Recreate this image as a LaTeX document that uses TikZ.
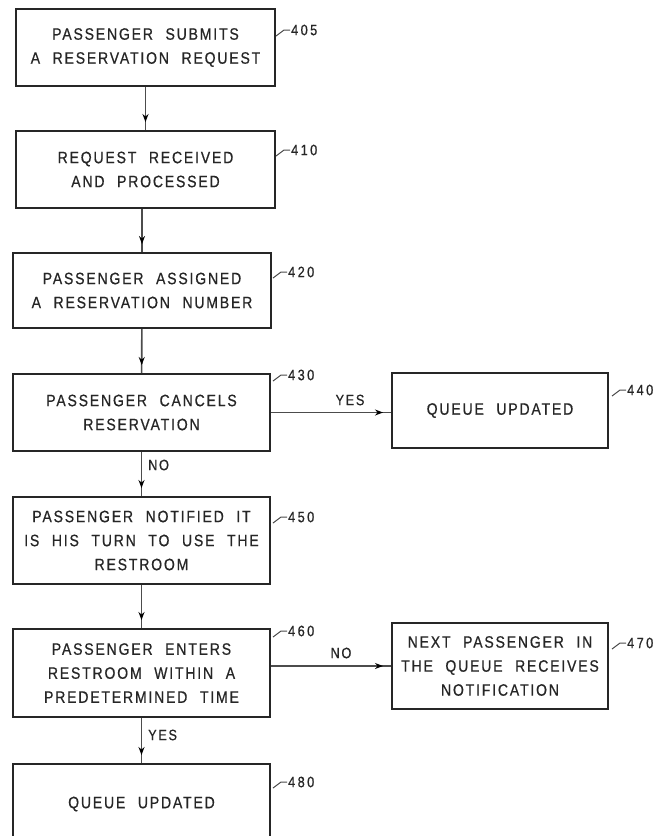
\documentclass[tikz,border=0pt]{standalone}
\usepackage{fontspec}
\setmainfont{Liberation Sans}[LetterSpace=11,WordSpace=2.2,FakeStretch=0.85,FakeBold=0.6]
\usetikzlibrary{arrows.meta,decorations.markings}
\begin{document}
\begin{tikzpicture}[x=1pt,y=-1pt,
  box/.style={draw=black!85, line width=2pt, align=center,
    font=\fontsize{16.5}{24}\selectfont, text=black!85, inner sep=2pt},
  flow/.style={draw=black!70, line width=1.6pt, postaction={decorate},
    decoration={markings, mark=at position -8pt with {\arrow[black]{Stealth[length=8pt,width=6pt]}}}},
  lab/.style={anchor=west, font=\fontsize{15}{15}\selectfont\addfontfeatures{LetterSpace=16}, text=black!85, inner sep=0pt},
  yn/.style={font=\fontsize{15}{15}\selectfont, text=black!85, inner sep=0pt},
  lead/.style={draw=black!70, line width=1pt}]
\clip (0,0) rectangle (661,836);
\fill[white] (0,0) rectangle (661,836);
% boxes
\node[box, minimum width=259pt, minimum height=77pt] (n405) at (145.5,47.5) {PASSENGER SUBMITS\\A RESERVATION REQUEST};
\node[box, minimum width=259pt, minimum height=77pt] (n410) at (145.5,169.5) {REQUEST RECEIVED\\AND PROCESSED};
\node[box, minimum width=258pt, minimum height=75pt] (n420) at (142,290.5) {PASSENGER ASSIGNED\\A RESERVATION NUMBER};
\node[box, minimum width=257pt, minimum height=77pt] (n430) at (141.5,412.5) {PASSENGER CANCELS\\RESERVATION};
\node[box, minimum width=216pt, minimum height=75pt] (n440) at (500,410.5) {QUEUE UPDATED};
\node[box, minimum width=257pt, minimum height=87pt] (n450) at (141.5,540.5) {PASSENGER NOTIFIED IT\\IS HIS TURN TO USE THE\\RESTROOM};
\node[box, minimum width=257pt, minimum height=88pt] (n460) at (141.5,673) {PASSENGER ENTERS\\RESTROOM WITHIN A\\PREDETERMINED TIME};
\node[box, minimum width=216pt, minimum height=86pt] (n470) at (500,666) {NEXT PASSENGER IN\\THE QUEUE RECEIVES\\NOTIFICATION};
\node[box, minimum width=257pt, minimum height=80pt] (n480) at (141.5,804) {\raisebox{3pt}{QUEUE UPDATED}};
% connectors
\draw[flow] (n405) -- (n410);
\draw[flow] (n410.south -| n420) -- (n420.north);
\draw[flow] (n420) -- (n430);
\draw[flow] (n430.east) -- (n430.east -| n440.west);
\draw[flow] (n430) -- (n450);
\draw[flow] (n450) -- (n460);
\draw[flow] (n470.west -| n460.east) -- (n470.west);
\draw[flow] (n460) -- (n480);
% branch labels
\node[yn] (yes1) at (350,400) {YES};
\node[yn, anchor=west] (no1) at (148,465) {NO};
\node[yn] (no2) at (341,653) {NO};
\node[yn, anchor=west] (yes2) at (148,735) {YES};
% reference numerals
\node[lab] (L405) at (291,30) {405};
\node[lab] (L410) at (291,150) {410};
\node[lab] (L420) at (288,272) {420};
\node[lab] (L430) at (288,375) {430};
\node[lab] (L440) at (627,390) {440};
\node[lab] (L450) at (288,517) {450};
\node[lab] (L460) at (288,631) {460};
\node[lab] (L470) at (627,643) {470};
\node[lab] (L480) at (288,782) {480};
\foreach \L in {L405,L410,L420,L430,L440,L450,L460,L470,L480}{
  \draw[lead] (\L.west) ++(-1,0) -- ++(-6,0) -- ++(-8,6);
}
\end{tikzpicture}
\end{document}
